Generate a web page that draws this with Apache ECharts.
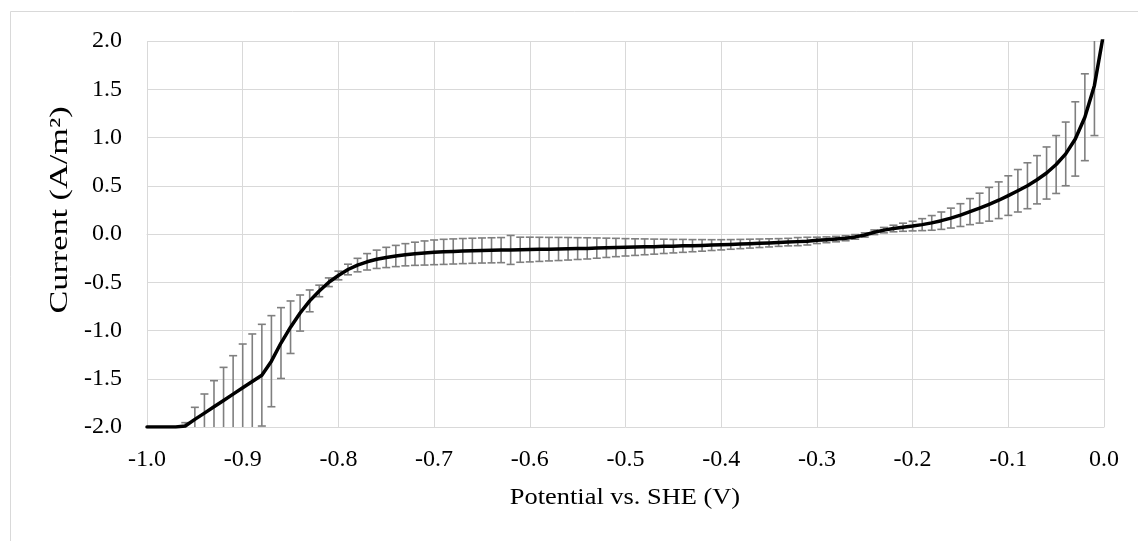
<!DOCTYPE html>
<html>
<head>
<meta charset="utf-8">
<title>Polarization curve</title>
<script src="https://cdn.jsdelivr.net/npm/echarts@6/dist/echarts.min.js"></script>
<style>
  html, body { margin: 0; padding: 0; background: #ffffff; }
  #chart { width: 1138px; height: 541px; }
</style>
</head>
<body>
<div id="chart"></div>
<script>
// Potential vs. SHE (V), one sample every 10 mV
const potential = [
  -1.00, -0.99, -0.98, -0.97, -0.96, -0.95, -0.94, -0.93, -0.92, -0.91,
  -0.90, -0.89, -0.88, -0.87, -0.86, -0.85, -0.84, -0.83, -0.82, -0.81,
  -0.80, -0.79, -0.78, -0.77, -0.76, -0.75, -0.74, -0.73, -0.72, -0.71,
  -0.70, -0.69, -0.68, -0.67, -0.66, -0.65, -0.64, -0.63, -0.62, -0.61,
  -0.60, -0.59, -0.58, -0.57, -0.56, -0.55, -0.54, -0.53, -0.52, -0.51,
  -0.50, -0.49, -0.48, -0.47, -0.46, -0.45, -0.44, -0.43, -0.42, -0.41,
  -0.40, -0.39, -0.38, -0.37, -0.36, -0.35, -0.34, -0.33, -0.32, -0.31,
  -0.30, -0.29, -0.28, -0.27, -0.26, -0.25, -0.24, -0.23, -0.22, -0.21,
  -0.20, -0.19, -0.18, -0.17, -0.16, -0.15, -0.14, -0.13, -0.12, -0.11,
  -0.10, -0.09, -0.08, -0.07, -0.06, -0.05, -0.04, -0.03, -0.02, -0.01,
   0.00
];

// Mean current density (A/m²)
const current = [
  -2.000, -2.000, -2.000, -2.000, -1.990, -1.921, -1.856, -1.790, -1.725, -1.659,
  -1.594, -1.528, -1.463, -1.318, -1.130, -0.966, -0.819, -0.693, -0.590, -0.500,
  -0.430, -0.368, -0.322, -0.288, -0.262, -0.243, -0.228, -0.215, -0.205, -0.197,
  -0.190, -0.185, -0.181, -0.177, -0.174, -0.171, -0.169, -0.167, -0.165, -0.163,
  -0.161, -0.159, -0.157, -0.155, -0.153, -0.151, -0.149, -0.146, -0.143, -0.140,
  -0.138, -0.136, -0.133, -0.131, -0.128, -0.126, -0.123, -0.121, -0.118, -0.115,
  -0.112, -0.108, -0.104, -0.100, -0.096, -0.092, -0.088, -0.084, -0.079, -0.074,
  -0.066, -0.060, -0.053, -0.044, -0.030, -0.010,  0.018,  0.040,  0.057,  0.070,
   0.082,  0.097,  0.115,  0.138,  0.165,  0.196,  0.232,  0.268,  0.308,  0.350,
   0.398,  0.448,  0.500,  0.562,  0.632,  0.720,  0.830,  0.985,  1.210,  1.540,
   2.100
];

// Standard deviation of the current (A/m²); 0 = no error bar
const deviation = [
  0, 0, 0, 0, 0.035, 0.125, 0.198, 0.270, 0.343, 0.398,
  0.454, 0.492, 0.527, 0.472, 0.367, 0.272, 0.187, 0.113, 0.060, 0.045,
  0.045, 0.055, 0.070, 0.085, 0.095, 0.105, 0.110, 0.115, 0.120, 0.125,
  0.128, 0.130, 0.130, 0.130, 0.130, 0.130, 0.130, 0.130, 0.150, 0.130,
  0.128, 0.125, 0.122, 0.120, 0.117, 0.113, 0.110, 0.105, 0.100, 0.095,
  0.090, 0.086, 0.082, 0.078, 0.074, 0.070, 0.067, 0.063, 0.060, 0.056,
  0.053, 0.050, 0.048, 0.046, 0.044, 0.042, 0.040, 0.039, 0.042, 0.040,
  0.033, 0.030, 0.028, 0.026, 0.024, 0.022, 0.024, 0.028, 0.034, 0.042,
  0.050, 0.062, 0.076, 0.090, 0.103, 0.118, 0.135, 0.155, 0.175, 0.190,
  0.205, 0.220, 0.238, 0.250, 0.270, 0.300, 0.330, 0.385, 0.450, 0.520,
  0
];

const xTitle = 'Potential vs. SHE (V)';
const yTitle = 'Current (A/m²)';

const FONT = '"Liberation Serif", "Times New Roman", serif';
const GRID_COLOR = '#d9d9d9';

const lineData = potential.map((v, i) => [v, current[i]]);
const barData = [];
potential.forEach((v, i) => {
  if (deviation[i] > 0) {
    barData.push([v, current[i] - deviation[i], current[i] + deviation[i]]);
  }
});

const fmt = v => (Math.abs(v) < 1e-9 ? 0 : v).toFixed(1);

const chart = echarts.init(document.getElementById('chart'), null, { renderer: 'canvas' });

chart.setOption({
  backgroundColor: '#ffffff',
  animation: false,
  grid: { left: 147, right: 34, top: 41, bottom: 114, containLabel: false },
  graphic: [
    {
      type: 'rect',
      shape: { x: 10.5, y: 11.5, width: 1140, height: 540 },
      style: { fill: 'none', stroke: GRID_COLOR, lineWidth: 1 },
      silent: true
    },
    {
      // vertical axis title
      type: 'text',
      x: 60, y: 210,
      rotation: Math.PI / 2,
      scaleX: 1.37,
      style: {
        text: yTitle,
        font: '25px ' + FONT,
        fill: '#000',
        align: 'center',
        verticalAlign: 'middle'
      },
      silent: true
    },
    {
      // horizontal axis title
      type: 'text',
      x: 625, y: 498,
      scaleX: 1.1,
      style: {
        text: xTitle,
        font: '24px ' + FONT,
        fill: '#000',
        align: 'center',
        verticalAlign: 'middle'
      },
      silent: true
    }
  ],
  xAxis: {
    type: 'value',
    min: -1, max: 0, interval: 0.1,
    axisLine: { show: true, lineStyle: { color: GRID_COLOR, width: 1 } },
    axisTick: { show: false },
    splitLine: { show: true, lineStyle: { color: GRID_COLOR, width: 1 } },
    axisLabel: {
      margin: 21,
      fontFamily: FONT, fontSize: 24, color: '#000',
      formatter: fmt
    }
  },
  yAxis: {
    type: 'value',
    min: -2, max: 2, interval: 0.5,
    axisLine: { show: true, lineStyle: { color: GRID_COLOR, width: 1 } },
    axisTick: { show: false },
    splitLine: { show: true, lineStyle: { color: GRID_COLOR, width: 1 } },
    axisLabel: {
      margin: 25,
      fontFamily: FONT, fontSize: 24, color: '#000',
      formatter: fmt
    }
  },
  series: [
    {
      name: 'deviation',
      type: 'custom',
      clip: true,
      z: 2,
      data: barData,
      encode: { x: 0, y: [1, 2] },
      renderItem: (params, api) => {
        const x = api.value(0);
        const lo = api.coord([x, api.value(1)]);
        const hi = api.coord([x, api.value(2)]);
        const half = 4;
        const style = { stroke: '#7f7f7f', lineWidth: 1.6 };
        return {
          type: 'group',
          children: [
            { type: 'line', shape: { x1: lo[0], y1: lo[1], x2: hi[0], y2: hi[1] }, style },
            { type: 'line', shape: { x1: hi[0] - half, y1: hi[1], x2: hi[0] + half, y2: hi[1] }, style },
            { type: 'line', shape: { x1: lo[0] - half, y1: lo[1], x2: lo[0] + half, y2: lo[1] }, style }
          ]
        };
      }
    },
    {
      name: 'mean',
      type: 'line',
      data: lineData,
      clip: true,
      z: 3,
      symbol: 'none',
      lineStyle: { color: '#000000', width: 3.5, join: 'round', cap: 'round' }
    }
  ]
});
</script>
</body>
</html>
